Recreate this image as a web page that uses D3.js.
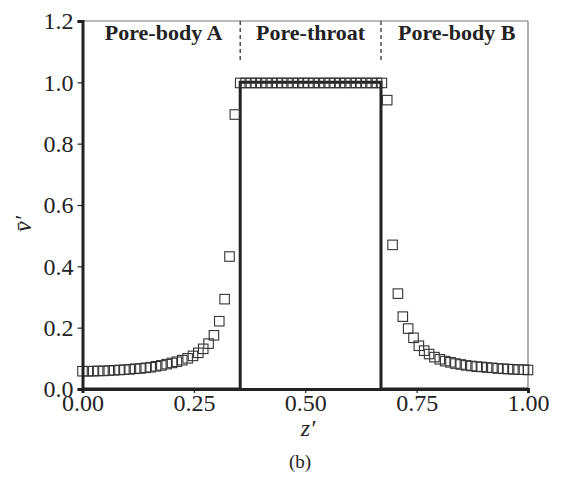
<!DOCTYPE html>
<html>
<head>
<meta charset="utf-8">
<script src="https://cdn.jsdelivr.net/npm/d3@7"></script>
<style>
  html, body { margin: 0; padding: 0; background: #fff; }
  svg { display: block; }
  text { font-family: "Liberation Serif", "DejaVu Serif", serif; fill: #222; }
</style>
</head>
<body>
<svg id="chart" width="563" height="477"></svg>
<script>
// ---- data ----
const zPoints = [
  0.000,0.012,0.024,0.035,0.047,0.059,0.071,0.083,0.094,0.106,0.118,0.130,0.142,0.153,0.165,
  0.177,0.189,0.201,0.212,0.224,0.236,0.248,0.260,0.271,0.283,0.295,0.307,0.319,0.330,0.342,
  0.354,0.366,0.378,0.389,0.401,0.413,0.425,0.437,0.448,0.460,0.472,0.484,0.496,0.507,0.519,
  0.531,0.543,0.555,0.566,0.578,0.590,0.602,0.614,0.625,0.637,0.649,0.661,0.672,
  0.684,0.696,0.708,0.719,0.731,0.743,0.755,0.767,0.778,0.790,0.802,0.814,0.826,0.837,0.849,
  0.861,0.873,0.885,0.896,0.908,0.920,0.932,0.944,0.955,0.967,0.979,0.991,1.000
];
const vPoints = [
  0.058,0.058,0.058,0.059,0.059,0.060,0.061,0.062,0.063,0.064,0.066,0.067,0.069,0.071,0.074,
  0.077,0.081,0.085,0.089,0.094,0.100,0.108,0.118,0.131,0.148,0.175,0.221,0.293,0.432,0.895,
  0.998,0.998,0.998,0.998,0.998,0.998,0.998,0.998,0.998,0.998,0.998,0.998,0.998,0.998,0.998,
  0.998,0.998,0.998,0.998,0.998,0.998,0.998,0.998,0.998,0.998,0.998,0.998,0.998,
  0.942,0.470,0.311,0.236,0.197,0.167,0.141,0.125,0.114,0.104,0.097,0.091,0.087,0.083,0.080,
  0.077,0.075,0.073,0.072,0.070,0.069,0.067,0.066,0.065,0.064,0.063,0.063,0.062
];
// step profile (solid line)
const stepZ = [0, 0.354, 0.354, 0.670, 0.670, 1.0];
const stepV = [0, 0, 1.0, 1.0, 0, 0];
// region boundaries and labels
const boundaries = [0.354, 0.670];
const regionLabels = ["Pore-body A", "Pore-throat", "Pore-body B"];
const regionCenters = [0.182, 0.512, 0.840];
const xTicks = [0, 0.25, 0.5, 0.75, 1.0];
const yTicks = [0, 0.2, 0.4, 0.6, 0.8, 1.0, 1.2];

// ---- layout ----
const svg = d3.select("#chart");
const L = 82.5, R = 528, T = 21, B = 389;
const x = d3.scaleLinear().domain([0, 1]).range([L, R]);
const y = d3.scaleLinear().domain([0, 1.2]).range([B, T]);

// frame (top & right thin)
svg.append("line").attr("x1", L).attr("x2", R).attr("y1", T).attr("y2", T)
  .attr("stroke", "#777").attr("stroke-width", 1.2);
svg.append("line").attr("x1", R).attr("x2", R).attr("y1", T).attr("y2", B)
  .attr("stroke", "#777").attr("stroke-width", 1.2);

// dashed boundaries
boundaries.forEach(b => {
  svg.append("line").attr("x1", x(b)).attr("x2", x(b))
    .attr("y1", T).attr("y2", 63)
    .attr("stroke", "#333").attr("stroke-width", 1.3)
    .attr("stroke-dasharray", "4,3");
});

// region labels
regionLabels.forEach((t, i) => {
  svg.append("text").attr("x", x(regionCenters[i])).attr("y", 40)
    .attr("text-anchor", "middle").attr("font-size", 22).attr("font-weight", "bold")
    .text(t);
});

// step line
const line = d3.line().x(d => x(d[0])).y(d => y(d[1]));
svg.append("path").datum(d3.zip(stepZ, stepV)).attr("d", line)
  .attr("fill", "none").attr("stroke", "#222").attr("stroke-width", 3);

// squares
const s = 9.5;
svg.append("g").selectAll("rect").data(d3.zip(zPoints, vPoints)).join("rect")
  .attr("x", d => x(d[0]) - s / 2).attr("y", d => y(d[1]) - s / 2)
  .attr("width", s).attr("height", s)
  .attr("fill", "none").attr("stroke", "#333").attr("stroke-width", 1.1);

// axes
const yAxis = svg.append("g").attr("transform", `translate(${L},0)`)
  .call(d3.axisLeft(y).tickValues(yTicks).tickFormat(d3.format(".1f")).tickSize(5).tickPadding(4));
yAxis.select(".domain").attr("stroke", "#222").attr("stroke-width", 3);
yAxis.selectAll(".tick line").attr("stroke", "#222").attr("stroke-width", 1.2);
yAxis.selectAll(".tick text").attr("font-size", 24).attr("font-family", "Liberation Serif").attr("fill", "#222");

const xAxis = svg.append("g").attr("transform", `translate(0,${B})`)
  .call(d3.axisBottom(x).tickValues(xTicks).tickFormat(d3.format(".2f")).tickSize(4).tickPadding(1));
xAxis.select(".domain").attr("stroke", "#222").attr("stroke-width", 3);
xAxis.selectAll(".tick line").attr("stroke", "#222").attr("stroke-width", 1.2);
xAxis.selectAll(".tick text").attr("font-size", 24).attr("font-family", "Liberation Serif").attr("fill", "#222");

// axis titles
svg.append("text").attr("x", 308).attr("y", 436).attr("text-anchor", "middle")
  .attr("font-size", 24).attr("font-style", "italic").text("z\u2032");
svg.append("text").attr("transform", "translate(31,224) rotate(-90)")
  .attr("text-anchor", "middle").attr("font-size", 24).attr("font-style", "italic")
  .text("v\u0304\u2032");
svg.append("text").attr("x", 300).attr("y", 468).attr("text-anchor", "middle")
  .attr("font-size", 19).text("(b)");
</script>
</body>
</html>
